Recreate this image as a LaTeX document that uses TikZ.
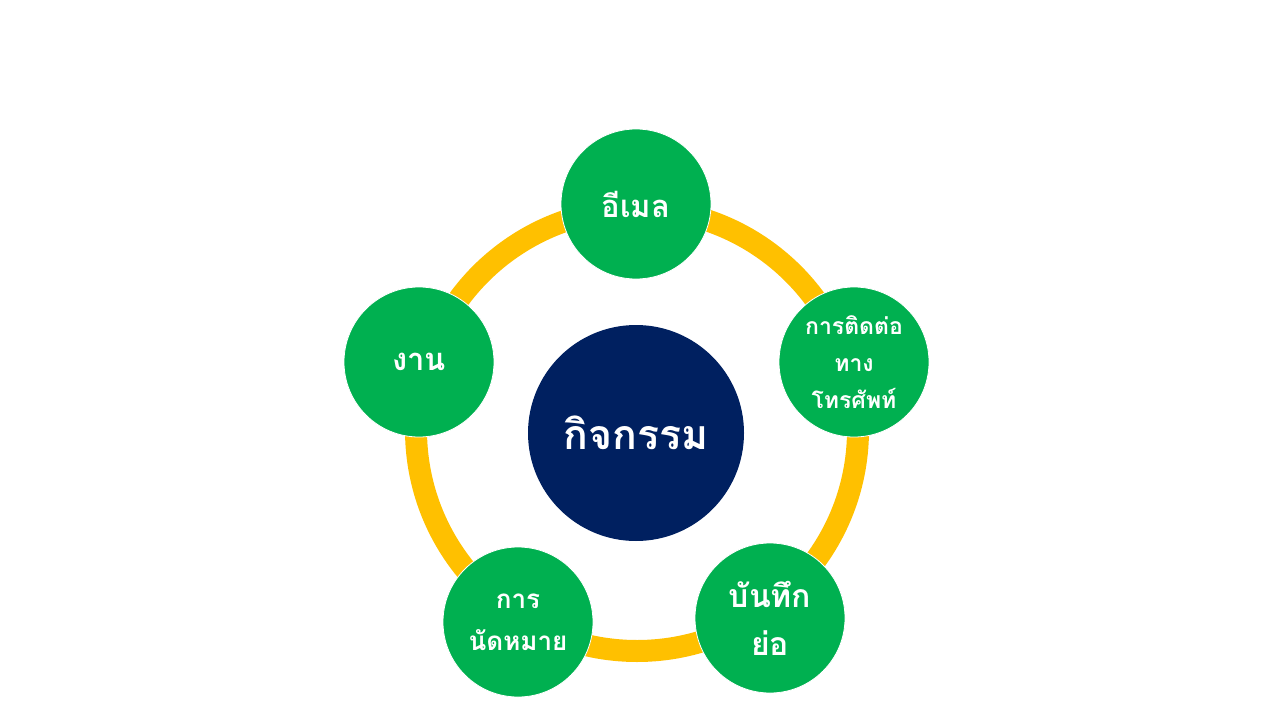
\documentclass[tikz,border=0pt]{standalone}
\usepackage{fontspec}
\newfontfamily\thaifont[Script=Thai]{Loma}
\usetikzlibrary{positioning}
\definecolor{ringyellow}{HTML}{FFC000}
\definecolor{leafgreen}{HTML}{00B050}
\definecolor{hubnavy}{HTML}{002060}

\begin{document}
\begin{tikzpicture}[x=1pt, y=-1pt,
    every bubble/.style={circle, fill=leafgreen, draw=white, line width=0.8pt,
        minimum size=150pt, inner sep=0pt, text=white, align=center},
    bubble mail/.style={font=\thaifont\bfseries\fontsize{31}{34}\selectfont},
    bubble phone/.style={font=\thaifont\bfseries\fontsize{23}{37}\selectfont},
    bubble memo/.style={font=\thaifont\bfseries\fontsize{32}{48}\selectfont},
    bubble meet/.style={font=\thaifont\bfseries\fontsize{26}{42}\selectfont},
    bubble work/.style={font=\thaifont\bfseries\fontsize{31}{34}\selectfont}]

\useasboundingbox (0,0) rectangle (1280,720);

\coordinate (ring-centre) at (637,430);
\draw [ringyellow, line width=22pt] (ring-centre) circle (221pt);

\node [circle, fill=hubnavy, minimum size=216pt, inner sep=0pt, text=white,
    font=\thaifont\bfseries\fontsize{41}{48}\selectfont] (hub) at (636,433) {กิจกรรม};

\foreach \m/\x/\y/\l in {mail/636/204/{อีเมล},
                         phone/854/362/{การติดต่อ\\ทาง\\โทรศัพท์},
                         memo/770/618/{บันทึก\\ย่อ},
                         meet/518/622/{การ\\นัดหมาย},
                         work/419/362/{งาน}}
    \node [every bubble/.try, bubble \m/.try] (bubble-\m) at (\x,\y) {\l};

\end{tikzpicture}
\end{document}
